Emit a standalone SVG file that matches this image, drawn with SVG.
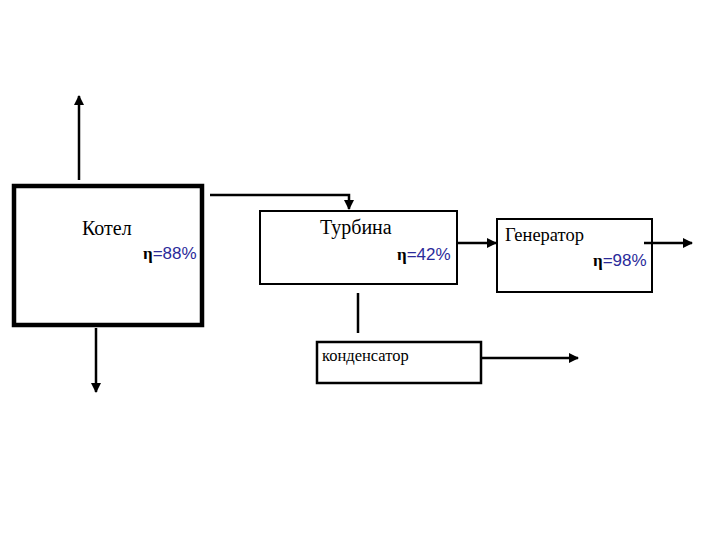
<svg xmlns="http://www.w3.org/2000/svg" width="720" height="540" viewBox="0 0 720 540">
<style>
.box{fill:#fff;stroke:#000;stroke-width:2}
.line{fill:none;stroke:#000;stroke-width:2.5}
.t{font-family:"Liberation Serif",serif;fill:#000}
.eta{font-family:"Liberation Serif",serif;font-weight:bold;fill:#000}
.pct{font-family:"Liberation Sans",sans-serif;fill:#2a2a9a}
</style>
<defs>
<marker id="arr" viewBox="0 0 10 10" refX="9" refY="5" markerWidth="4" markerHeight="4" orient="auto" markerUnits="strokeWidth">
<path d="M0,0 L10,5 L0,10 z" fill="#000"/>
</marker>
</defs>
<rect width="720" height="540" fill="#fff"/>
<g id="kotel">
<rect x="14" y="186" width="188" height="139" fill="#fff" stroke="#000" stroke-width="4.5"/>
<text class="t" x="82" y="235" font-size="20">Котел</text>
<text x="143" y="259" font-size="17"><tspan class="eta">η</tspan><tspan class="pct">=88%</tspan></text>
</g>
<g id="turbina">
<rect class="box" x="260" y="211" width="197" height="73"/>
<text class="t" x="320" y="234" font-size="20">Турбина</text>
<text x="397" y="260" font-size="17"><tspan class="eta">η</tspan><tspan class="pct">=42%</tspan></text>
</g>
<g id="generator">
<rect class="box" x="497" y="219" width="155" height="73"/>
<text class="t" x="505" y="241" font-size="18.5">Генератор</text>
<text x="593" y="266" font-size="17"><tspan class="eta">η</tspan><tspan class="pct">=98%</tspan></text>
</g>
<g id="kondensator">
<rect x="317" y="342" width="164" height="41" fill="#fff" stroke="#000" stroke-width="2.5"/>
<text class="t" x="322" y="361" font-size="16.5">конденсатор</text>
</g>
<g id="connectors">
<line class="line" x1="79" y1="180" x2="79" y2="96" marker-end="url(#arr)"/>
<line class="line" x1="96" y1="328" x2="96" y2="392" marker-end="url(#arr)"/>
<polyline class="line" points="210,195 349,195 349,209" marker-end="url(#arr)"/>
<line class="line" x1="458" y1="243" x2="496" y2="243" marker-end="url(#arr)"/>
<line class="line" x1="644" y1="243" x2="692" y2="243" marker-end="url(#arr)"/>
<line class="line" x1="358" y1="293" x2="358" y2="333"/>
<line class="line" x1="482" y1="358" x2="578" y2="358" marker-end="url(#arr)"/>
</g>
</svg>
